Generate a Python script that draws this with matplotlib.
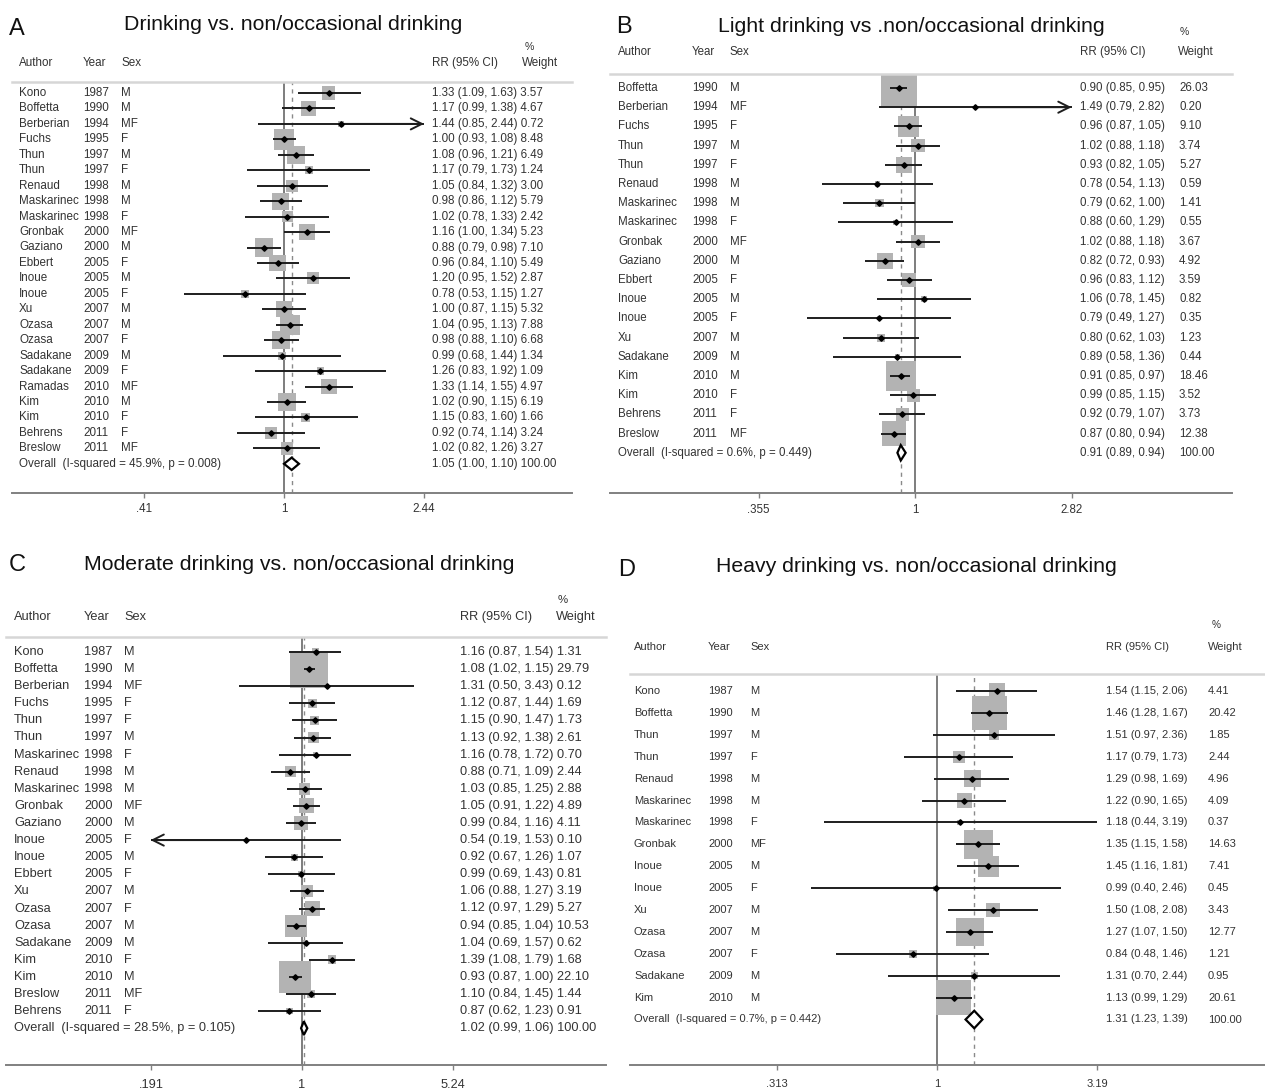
import numpy as np
import matplotlib.pyplot as plt
from matplotlib import transforms
from matplotlib.patches import Polygon
from matplotlib.ticker import NullLocator

plt.rcParams['font.family'] = ['Liberation Sans', 'DejaVu Sans']

# ---- panel A: drinking vs non/occasional drinking
a_author = ['Kono', 'Boffetta', 'Berberian', 'Fuchs', 'Thun', 'Thun', 'Renaud', 'Maskarinec',
            'Maskarinec', 'Gronbak', 'Gaziano', 'Ebbert', 'Inoue', 'Inoue', 'Xu', 'Ozasa', 'Ozasa',
            'Sadakane', 'Sadakane', 'Ramadas', 'Kim', 'Kim', 'Behrens', 'Breslow']
a_year = [1987, 1990, 1994, 1995, 1997, 1997, 1998, 1998, 1998, 2000, 2000, 2005, 2005, 2005,
          2007, 2007, 2007, 2009, 2009, 2010, 2010, 2010, 2011, 2011]
a_sex = ['M', 'M', 'MF', 'F', 'M', 'F', 'M', 'M', 'F', 'MF', 'M', 'F', 'M', 'F', 'M', 'M', 'F',
         'M', 'F', 'MF', 'M', 'F', 'F', 'MF']
a_rr = [1.33, 1.17, 1.44, 1.00, 1.08, 1.17, 1.05, 0.98, 1.02, 1.16, 0.88, 0.96, 1.20, 0.78, 1.00,
        1.04, 0.98, 0.99, 1.26, 1.33, 1.02, 1.15, 0.92, 1.02]
a_lo = [1.09, 0.99, 0.85, 0.93, 0.96, 0.79, 0.84, 0.86, 0.78, 1.00, 0.79, 0.84, 0.95, 0.53, 0.87,
        0.95, 0.88, 0.68, 0.83, 1.14, 0.90, 0.83, 0.74, 0.82]
a_hi = [1.63, 1.38, 2.44, 1.08, 1.21, 1.73, 1.32, 1.12, 1.33, 1.34, 0.98, 1.10, 1.52, 1.15, 1.15,
        1.13, 1.10, 1.44, 1.92, 1.55, 1.15, 1.60, 1.14, 1.26]
a_wt = [3.57, 4.67, 0.72, 8.48, 6.49, 1.24, 3.00, 5.79, 2.42, 5.23, 7.10, 5.49, 2.87, 1.27, 5.32,
        7.88, 6.68, 1.34, 1.09, 4.97, 6.19, 1.66, 3.24, 3.27]
a_overall = [1.05, 1.00, 1.10]
a_het = 'Overall  (I-squared = 45.9%, p = 0.008)'
a_ticks = [0.41, 1, 2.44]
a_ticklabels = ['.41', '1', '2.44']
a_arrows = {2: 'right'}

# ---- panel B: light drinking
b_author = ['Boffetta', 'Berberian', 'Fuchs', 'Thun', 'Thun', 'Renaud', 'Maskarinec', 'Maskarinec',
            'Gronbak', 'Gaziano', 'Ebbert', 'Inoue', 'Inoue', 'Xu', 'Sadakane', 'Kim', 'Kim',
            'Behrens', 'Breslow']
b_year = [1990, 1994, 1995, 1997, 1997, 1998, 1998, 1998, 2000, 2000, 2005, 2005, 2005, 2007,
          2009, 2010, 2010, 2011, 2011]
b_sex = ['M', 'MF', 'F', 'M', 'F', 'M', 'M', 'F', 'MF', 'M', 'F', 'M', 'F', 'M', 'M', 'M', 'F',
         'F', 'MF']
b_rr = [0.90, 1.49, 0.96, 1.02, 0.93, 0.78, 0.79, 0.88, 1.02, 0.82, 0.96, 1.06, 0.79, 0.80, 0.89,
        0.91, 0.99, 0.92, 0.87]
b_lo = [0.85, 0.79, 0.87, 0.88, 0.82, 0.54, 0.62, 0.60, 0.88, 0.72, 0.83, 0.78, 0.49, 0.62, 0.58,
        0.85, 0.85, 0.79, 0.80]
b_hi = [0.95, 2.82, 1.05, 1.18, 1.05, 1.13, 1.00, 1.29, 1.18, 0.93, 1.12, 1.45, 1.27, 1.03, 1.36,
        0.97, 1.15, 1.07, 0.94]
b_wt = [26.03, 0.20, 9.10, 3.74, 5.27, 0.59, 1.41, 0.55, 3.67, 4.92, 3.59, 0.82, 0.35, 1.23, 0.44,
        18.46, 3.52, 3.73, 12.38]
b_overall = [0.91, 0.89, 0.94]
b_het = 'Overall  (I-squared = 0.6%, p = 0.449)'
b_ticks = [0.355, 1, 2.82]
b_ticklabels = ['.355', '1', '2.82']
b_arrows = {1: 'right'}

# ---- panel C: moderate drinking
c_author = ['Kono', 'Boffetta', 'Berberian', 'Fuchs', 'Thun', 'Thun', 'Maskarinec', 'Renaud',
            'Maskarinec', 'Gronbak', 'Gaziano', 'Inoue', 'Inoue', 'Ebbert', 'Xu', 'Ozasa', 'Ozasa',
            'Sadakane', 'Kim', 'Kim', 'Breslow', 'Behrens']
c_year = [1987, 1990, 1994, 1995, 1997, 1997, 1998, 1998, 1998, 2000, 2000, 2005, 2005, 2005,
          2007, 2007, 2007, 2009, 2010, 2010, 2011, 2011]
c_sex = ['M', 'M', 'MF', 'F', 'F', 'M', 'F', 'M', 'M', 'MF', 'M', 'F', 'M', 'F', 'M', 'F', 'M',
         'M', 'F', 'M', 'MF', 'F']
c_rr = [1.16, 1.08, 1.31, 1.12, 1.15, 1.13, 1.16, 0.88, 1.03, 1.05, 0.99, 0.54, 0.92, 0.99, 1.06,
        1.12, 0.94, 1.04, 1.39, 0.93, 1.10, 0.87]
c_lo = [0.87, 1.02, 0.50, 0.87, 0.90, 0.92, 0.78, 0.71, 0.85, 0.91, 0.84, 0.19, 0.67, 0.69, 0.88,
        0.97, 0.85, 0.69, 1.08, 0.87, 0.84, 0.62]
c_hi = [1.54, 1.15, 3.43, 1.44, 1.47, 1.38, 1.72, 1.09, 1.25, 1.22, 1.16, 1.53, 1.26, 1.43, 1.27,
        1.29, 1.04, 1.57, 1.79, 1.00, 1.45, 1.23]
c_wt = [1.31, 29.79, 0.12, 1.69, 1.73, 2.61, 0.70, 2.44, 2.88, 4.89, 4.11, 0.10, 1.07, 0.81, 3.19,
        5.27, 10.53, 0.62, 1.68, 22.10, 1.44, 0.91]
c_overall = [1.02, 0.99, 1.06]
c_het = 'Overall  (I-squared = 28.5%, p = 0.105)'
c_ticks = [0.191, 1, 5.24]
c_ticklabels = ['.191', '1', '5.24']
c_arrows = {11: 'left'}

# ---- panel D: heavy drinking
d_author = ['Kono', 'Boffetta', 'Thun', 'Thun', 'Renaud', 'Maskarinec', 'Maskarinec', 'Gronbak',
            'Inoue', 'Inoue', 'Xu', 'Ozasa', 'Ozasa', 'Sadakane', 'Kim']
d_year = [1987, 1990, 1997, 1997, 1998, 1998, 1998, 2000, 2005, 2005, 2007, 2007, 2007, 2009, 2010]
d_sex = ['M', 'M', 'M', 'F', 'M', 'M', 'F', 'MF', 'M', 'F', 'M', 'M', 'F', 'M', 'M']
d_rr = [1.54, 1.46, 1.51, 1.17, 1.29, 1.22, 1.18, 1.35, 1.45, 0.99, 1.50, 1.27, 0.84, 1.31, 1.13]
d_lo = [1.15, 1.28, 0.97, 0.79, 0.98, 0.90, 0.44, 1.15, 1.16, 0.40, 1.08, 1.07, 0.48, 0.70, 0.99]
d_hi = [2.06, 1.67, 2.36, 1.73, 1.69, 1.65, 3.19, 1.58, 1.81, 2.46, 2.08, 1.50, 1.46, 2.44, 1.29]
d_wt = [4.41, 20.42, 1.85, 2.44, 4.96, 4.09, 0.37, 14.63, 7.41, 0.45, 3.43, 12.77, 1.21, 0.95, 20.61]
d_overall = [1.31, 1.23, 1.39]
d_het = 'Overall  (I-squared = 0.7%, p = 0.442)'
d_ticks = [0.313, 1, 3.19]
d_ticklabels = ['.313', '1', '3.19']
d_arrows = {}

W, H = 1265, 1090
fig = plt.figure(figsize=(W / 100, H / 100), dpi=100)


def fx(x):
    return x / W


def fy(y):
    return 1 - y / H


TXT = '#333333'
BOX = '#b3b3b3'


def forest(letter, title, author, year, sex, rr, lo, hi, wt, overall, het, ticks, ticklabels,
           arrows, lay):
    x0, x1, one_x, k = lay['x0'], lay['x1'], lay['one'], lay['k']
    rule_y, axis_y, row0, dy = lay['rule'], lay['axis'], lay['row0'], lay['dy']
    fs = lay['fs']

    ax = fig.add_axes([fx(x0), fy(axis_y), (x1 - x0) / W, (axis_y - rule_y) / H])
    ax.set_xscale('log')
    ax.set_xlim(np.exp((x0 - one_x) / k), np.exp((x1 - one_x) / k))
    ax.set_ylim((axis_y - row0) / dy, (rule_y - row0) / dy)
    ax.set_facecolor('none')

    for s in ['left', 'right']:
        ax.spines[s].set_visible(False)
    ax.spines['top'].set_color('#d6d6d6')
    ax.spines['top'].set_linewidth(1.8)
    ax.spines['bottom'].set_color('#808080')
    ax.spines['bottom'].set_linewidth(1.4)
    ax.set_yticks([])
    ax.set_xticks(ticks)
    ax.set_xticklabels(ticklabels)
    ax.xaxis.set_minor_locator(NullLocator())
    ax.tick_params(axis='x', length=3.6, width=1, color='#808080', labelsize=fs,
                   labelcolor=TXT, pad=lay['pad'])

    rows = np.arange(len(rr))
    n = len(rr)

    ax.axvline(1, color='#5a5a5a', lw=1.1, zorder=1)
    ax.axvline(overall[0], color='#8a8a8a', lw=1.0, ls=(0, (3, 3)), zorder=1)

    sizes = (lay['box'] * np.sqrt(np.array(wt)) * 0.72) ** 2
    ax.scatter(rr, rows, s=sizes, marker='s', color=BOX, linewidths=0, zorder=2)
    ax.hlines(rows, lo, hi, color='#1e1e1e', lw=1.4, zorder=3)
    for i, side in arrows.items():
        tip = hi[i] if side == 'right' else lo[i]
        ax.annotate('', xy=(tip, i), xytext=(rr[i], i),
                    arrowprops=dict(arrowstyle='->,head_length=0.8,head_width=0.4',
                                    color='#1e1e1e', lw=1.4, shrinkA=0, shrinkB=0), zorder=3)
    ax.plot(rr, rows, 'D', ms=2.8, color='black', zorder=4)

    h = 0.4
    ax.add_patch(Polygon([[overall[1], n], [overall[0], n - h], [overall[2], n],
                          [overall[0], n + h]], closed=True, fc='white', ec='black',
                         lw=1.6, zorder=4))

    tr = transforms.blended_transform_factory(fig.transFigure, ax.transData)
    for i in range(n):
        ax.text(fx(lay['c_auth']), i, author[i], transform=tr, fontsize=fs, color=TXT, va='center')
        ax.text(fx(lay['c_year']), i, str(year[i]), transform=tr, fontsize=fs, color=TXT,
                va='center')
        ax.text(fx(lay['c_sex']), i, sex[i], transform=tr, fontsize=fs, color=TXT, va='center')
        ci = f'{rr[i]:.2f} ({lo[i]:.2f}, {hi[i]:.2f})'
        if lay['c_wt'] is None:
            ci = f'{ci} {wt[i]:.2f}'
        else:
            ax.text(fx(lay['c_wt']), i, f'{wt[i]:.2f}', transform=tr, fontsize=fs, color=TXT,
                    va='center')
        ax.text(fx(lay['c_rr']), i, ci, transform=tr, fontsize=fs, color=TXT, va='center')

    ax.text(fx(lay['c_auth']), n, het, transform=tr, fontsize=fs, color=TXT, va='center')
    ci = f'{overall[0]:.2f} ({overall[1]:.2f}, {overall[2]:.2f})'
    if lay['c_wt'] is None:
        ci = f'{ci} 100.00'
    else:
        ax.text(fx(lay['c_wt']), n, '100.00', transform=tr, fontsize=fs, color=TXT, va='center')
    ax.text(fx(lay['c_rr']), n, ci, transform=tr, fontsize=fs, color=TXT, va='center')

    # header
    hy = fy(lay['head'])
    fig.text(fx(lay['c_auth']), hy, 'Author', fontsize=fs, color=TXT, va='center')
    fig.text(fx(lay['c_year']), hy, 'Year', fontsize=fs, color=TXT, va='center')
    fig.text(fx(lay['c_sex']), hy, 'Sex', fontsize=fs, color=TXT, va='center')
    fig.text(fx(lay['c_rr']), hy, 'RR (95% CI)', fontsize=fs, color=TXT, va='center')
    fig.text(fx(lay['w_x']), hy, 'Weight', fontsize=fs, color=TXT, va='center')
    fig.text(fx(lay['pct'][0]), fy(lay['pct'][1]), '%', fontsize=fs * 0.9, color=TXT,
             va='center')

    fig.text(fx(lay['letter'][0]), fy(lay['letter'][1]), letter, fontsize=17, color='#111111',
             va='center')
    fig.text(fx(lay['title'][0]), fy(lay['title'][1]), title, fontsize=15.3, color='#111111',
             va='center', ha='center')


lay_a = dict(x0=12, x1=572, one=284, k=157, rule=82, axis=493, row0=93, dy=15.45, fs=8.4,
             box=7.0, pad=3.5, c_auth=19, c_year=83, c_sex=121, c_rr=432, c_wt=None, w_x=522,
             head=63, pct=(525, 47), letter=(9, 29), title=(293, 25))
lay_b = dict(x0=610, x1=1232, one=915, k=151, rule=74, axis=493, row0=88, dy=19.2, fs=8.3,
             box=7.06, pad=4.5, c_auth=618, c_year=692, c_sex=730, c_rr=1080, c_wt=1179,
             w_x=1178, head=52, pct=(1180, 32), letter=(616, 27), title=(911, 27))
lay_c = dict(x0=6, x1=606, one=302, k=91.2, rule=637, axis=1065, row0=652, dy=17.1, fs=9.2,
             box=6.8, pad=6.5, c_auth=14, c_year=84, c_sex=124, c_rr=460, c_wt=None, w_x=556,
             head=617, pct=(558, 600), letter=(9, 565), title=(299, 565))
lay_d = dict(x0=630, x1=1265, one=937, k=138, rule=674, axis=1065, row0=691, dy=21.9, fs=8.0,
             box=7.7, pad=6.5, c_auth=634, c_year=708, c_sex=750, c_rr=1106, c_wt=1208,
             w_x=1208, head=647, pct=(1212, 625), letter=(618, 570), title=(916, 567))

forest('A', 'Drinking vs. non/occasional drinking', a_author, a_year, a_sex, a_rr, a_lo, a_hi,
       a_wt, a_overall, a_het, a_ticks, a_ticklabels, a_arrows, lay_a)
forest('B', 'Light drinking vs .non/occasional drinking', b_author, b_year, b_sex, b_rr, b_lo,
       b_hi, b_wt, b_overall, b_het, b_ticks, b_ticklabels, b_arrows, lay_b)
forest('C', 'Moderate drinking vs. non/occasional drinking', c_author, c_year, c_sex, c_rr, c_lo,
       c_hi, c_wt, c_overall, c_het, c_ticks, c_ticklabels, c_arrows, lay_c)
forest('D', 'Heavy drinking vs. non/occasional drinking', d_author, d_year, d_sex, d_rr, d_lo,
       d_hi, d_wt, d_overall, d_het, d_ticks, d_ticklabels, d_arrows, lay_d)

fig.savefig('out.png', dpi=100, facecolor='white')
